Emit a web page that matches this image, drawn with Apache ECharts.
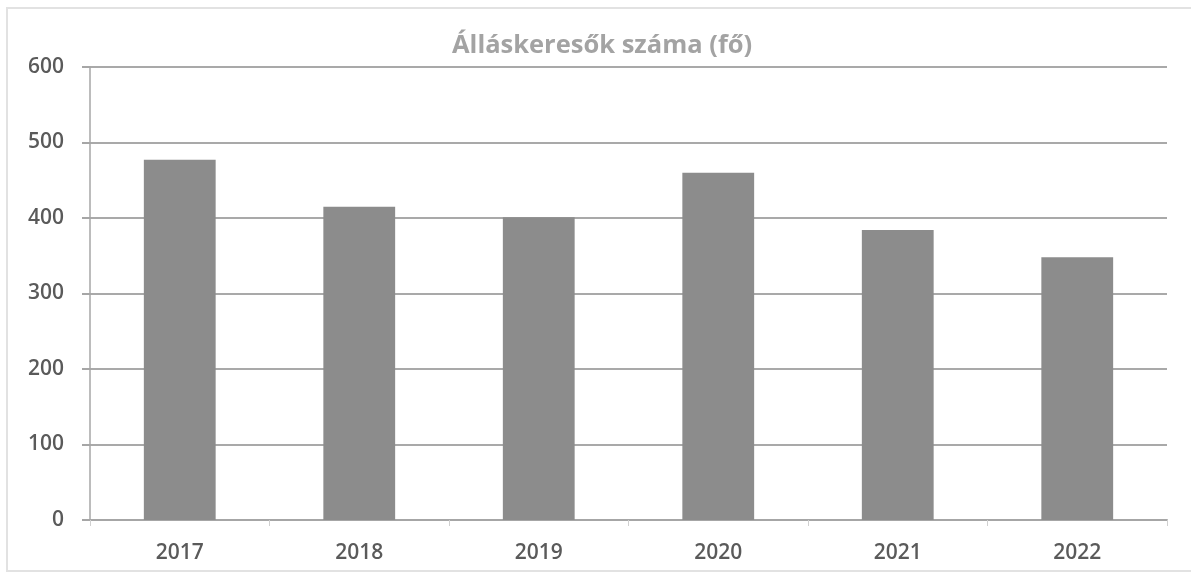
<!DOCTYPE html>
<html>
<head>
<meta charset="utf-8">
<script src="https://cdn.jsdelivr.net/npm/echarts@6/dist/echarts.min.js"></script>
<style>
  html, body { margin: 0; padding: 0; background: #fff; }
  #chart { width: 1191px; height: 577px; }
</style>
</head>
<body>
<div id="chart"></div>
<script>
const titleText = "Álláskeresők száma (fő)";
const years = ["2017", "2018", "2019", "2020", "2021", "2022"];
const jobSeekers = [477, 415, 401, 460, 384, 348];

const chart = echarts.init(document.getElementById("chart"));

chart.setOption({
  backgroundColor: "#fff",
  animation: false,
  textStyle: { fontFamily: "Open Sans" },
  title: {
    text: titleText,
    left: 447,
    top: 28,
    textStyle: { fontFamily: "Open Sans", fontWeight: "bold", fontSize: 25.5, color: "#a3a3a3" },
  },
  graphic: [
    {
      type: "rect",
      shape: { x: 7, y: 8, width: 1200, height: 563 },
      style: { fill: "none", stroke: "#e2e2e2", lineWidth: 2 },
      silent: true,
    },
  ],
  grid: { left: 90, right: 24, top: 67, bottom: 57 },
  xAxis: {
    type: "category",
    data: years,
    axisLine: { lineStyle: { color: "#a6a6a6", width: 2 } },
    axisTick: { show: true, inside: false, length: 6, lineStyle: { color: "#d0d0d0" } },
    axisLabel: { color: "#5a5a5a", fontSize: 21, fontWeight: 600, margin: 23 },
  },
  yAxis: {
    type: "value",
    min: 0,
    max: 600,
    interval: 100,
    axisLine: { show: true, lineStyle: { color: "#a6a6a6", width: 1.5 } },
    axisTick: { show: true, length: 8, lineStyle: { color: "#a6a6a6", width: 2 } },
    axisLabel: { color: "#5a5a5a", fontSize: 21, fontWeight: 600, margin: 26 },
    splitLine: { lineStyle: { color: "#a9a9a9", width: 2 } },
  },
  series: [
    {
      type: "bar",
      data: jobSeekers,
      barWidth: "40%",
      itemStyle: { color: "#8c8c8c" },
    },
  ],
});
</script>
</body>
</html>
